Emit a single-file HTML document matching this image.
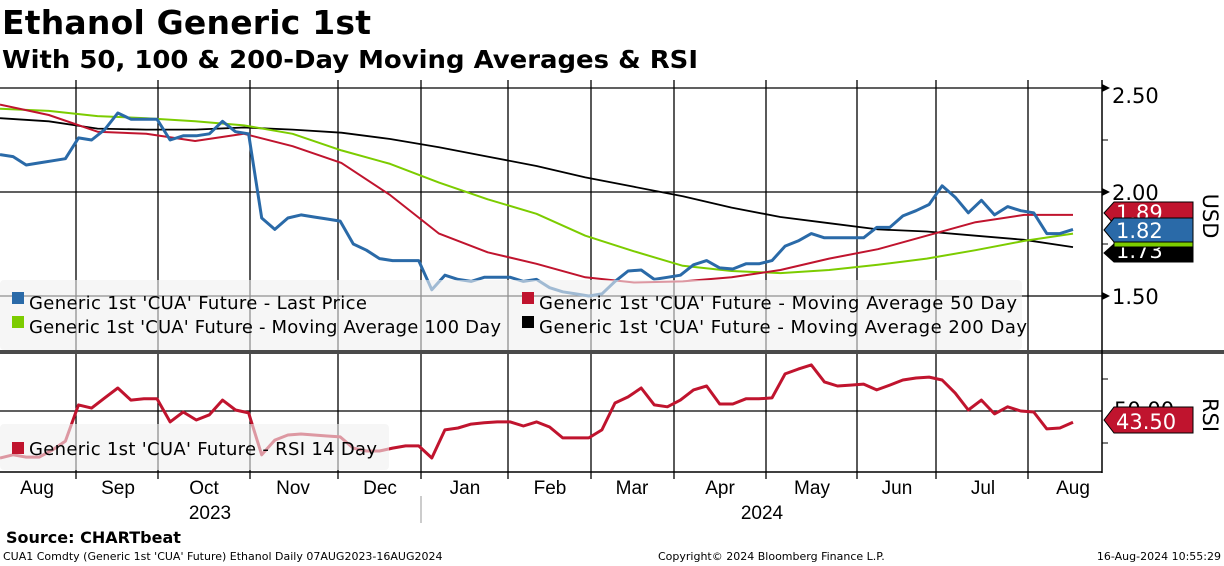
<!DOCTYPE html>
<html><head><meta charset="utf-8"><style>
body{margin:0;background:#fff;}
svg{display:block;font-family:"DejaVu Sans","Liberation Sans",sans-serif;}
</style></head><body>
<svg id="chart" width="1224" height="566" viewBox="0 0 1224 566" xmlns="http://www.w3.org/2000/svg">
<text x="2" y="34" font-size="33" font-weight="bold" textLength="369">Ethanol Generic 1st</text>
<text x="2" y="68" font-size="25" font-weight="bold" textLength="696" lengthAdjust="spacingAndGlyphs">With 50, 100 &amp; 200-Day Moving Averages &amp; RSI</text>
<g id="grid"></g>
<g id="series"></g>
<g id="legends"></g>
<rect x="0" y="350" width="1224" height="4" fill="#4a4a4a"/>
<line x1="1102" y1="80" x2="1102" y2="473" stroke="#000" stroke-width="1.5"/>
<line x1="0" y1="472" x2="1102" y2="472" stroke="#000" stroke-width="1.5"/>
<g id="axes"></g>
<text transform="translate(1203,216) rotate(90)" font-size="21" text-anchor="middle">USD</text>
<text transform="translate(1203,415) rotate(90)" font-size="21" text-anchor="middle">RSI</text>
<text x="210" y="519" font-size="19" text-anchor="middle" font-family="Liberation Sans, sans-serif">2023</text>
<text x="762" y="519" font-size="19" text-anchor="middle" font-family="Liberation Sans, sans-serif">2024</text>
<line x1="421" y1="496" x2="421" y2="523" stroke="#999"/>
<text x="6" y="543" font-size="16" font-weight="bold">Source: CHARTbeat</text>
<text x="3" y="560" font-size="11">CUA1 Comdty (Generic 1st 'CUA' Future) Ethanol  Daily 07AUG2023-16AUG2024</text>
<text x="658" y="560" font-size="11">Copyright© 2024 Bloomberg Finance L.P.</text>
<text x="1221" y="560" font-size="11" text-anchor="end">16-Aug-2024 10:55:29</text>
</svg>
<script>
const months = ["Aug","Sep","Oct","Nov","Dec","Jan","Feb","Mar","Apr","May","Jun","Jul","Aug"];
const priceTicks = [2.50, 2.00, 1.50];
const price = [2.18,2.17,2.13,2.14,2.15,2.16,2.26,2.25,2.30,2.38,2.35,2.35,2.35,2.25,2.27,2.27,2.28,2.34,2.29,2.28,
1.875,1.82,1.875,1.89,1.88,1.87,1.86,1.75,1.72,1.68,
1.67,1.67,1.67,1.53,1.60,1.58,1.57,1.59,1.59,1.59,
1.57,1.58,1.54,1.52,1.51,1.50,1.51,1.57,1.62,1.625,
1.58,1.59,1.60,1.65,1.67,1.635,1.63,1.655,1.655,1.67,
1.74,1.765,1.80,1.78,1.78,1.78,1.78,1.83,1.83,1.885,
1.91,1.94,2.03,1.975,1.90,1.96,1.89,1.93,1.91,1.90,
1.80,1.80,1.82];
const ma50 = [2.42,2.37,2.29,2.28,2.245,2.28,2.22,2.14,1.985,1.80,1.71,1.655,1.59,1.565,1.57,1.59,1.625,1.68,1.725,1.79,1.855,1.89,1.89];
const ma100 = [2.40,2.39,2.365,2.355,2.34,2.32,2.28,2.20,2.135,2.045,1.965,1.895,1.79,1.715,1.645,1.62,1.61,1.625,1.65,1.68,1.72,1.765,1.80];
const ma200 = [2.355,2.34,2.305,2.30,2.30,2.31,2.30,2.285,2.255,2.215,2.17,2.125,2.07,2.025,1.98,1.925,1.88,1.85,1.82,1.81,1.79,1.77,1.735];
const rsi = [35.3,36.3,35.6,35.6,37.8,40.6,51.9,50.9,54.1,57.2,53.4,53.8,53.8,46.6,49.7,47.2,48.8,53.4,50.3,49.4,
36.3,40.9,42.5,42.8,42.5,42.2,41.9,38.4,37.5,37.5,38.4,39.1,39.1,35.3,44.1,44.7,45.9,46.3,46.6,46.6,
45.3,46.6,45.0,41.6,41.6,41.6,44.1,52.5,54.4,57.2,51.9,51.3,53.4,56.6,57.8,52.2,52.2,53.8,53.8,54.1,
61.6,63.1,64.4,59.1,57.8,58.1,58.4,56.6,58.1,59.7,60.3,60.6,59.7,55.6,50.3,53.4,49.1,51.3,50.0,49.7,
44.4,44.7,46.5];
const lastLabels = ["1.89","1.82","1.73"];
const rsiLast = "43.50";

const NS="http://www.w3.org/2000/svg";
const X0=0, X1=1073;
function xIdx(i,n){return X0+(X1-X0)*i/(n-1);}
function yPrice(v){return 192-(v-2)*208;}
function yRsi(r){return 411-(r-50)*3.2;}
const monthGrid=[76,158,250,338,421,508,591,674,766,857,936,1028];
const monthLabelX=[37,118,204,293,380,465,550,632,720,812,897,983,1073];
function mk(tag,attrs,parent){const e=document.createElementNS(NS,tag);for(const k in attrs)e.setAttribute(k,attrs[k]);parent.appendChild(e);return e;}
const grid=document.getElementById('grid'),series=document.getElementById('series'),axes=document.getElementById('axes'),leg=document.getElementById('legends');
monthGrid.forEach(x=>{
  const l=mk('line',{x1:x,y1:80,x2:x,y2:350,stroke:'#000','stroke-width':1.3},grid);
  
  
  mk('line',{x1:x,y1:354,x2:x,y2:479,stroke:'#000','stroke-width':1.3},grid);
});
priceTicks.forEach((v,i)=>{
  const y=yPrice(v);
  const l=mk('line',{x1:0,y1:y,x2:1102,y2:y,stroke:'#000','stroke-width':1.3},grid);
  
  
  mk('path',{d:`M1102 ${y-4} L1110 ${y} L1102 ${y+4}Z`,fill:'#000'},axes);
  const t=mk('text',{x:1112,y:(i===0?y+15:y+8),'font-size':21},axes);
  t.textContent=v.toFixed(2);
  
  
});
[2.25,1.75].forEach(v=>{const y=yPrice(v);mk('line',{x1:1102,y1:y,x2:1108,y2:y,stroke:'#000'},axes);});
mk('line',{x1:0,y1:411,x2:1102,y2:411,stroke:'#000','stroke-width':1.3},grid);
[379,443].forEach(y=>mk('line',{x1:1102,y1:y,x2:1108,y2:y,stroke:'#000'},axes));
months.forEach((m,i)=>{
  const t=mk('text',{x:monthLabelX[i],y:494,'font-size':19,'text-anchor':'middle','font-family':'Liberation Sans, sans-serif'},axes);
  t.textContent=m;
  
  
});
function line(arr,yf,color,w,name){
  const d=arr.map((v,i)=>(i?'L':'M')+xIdx(i,arr.length).toFixed(1)+' '+yf(v).toFixed(1)).join(' ');
  const p=mk('path',{d:d,fill:'none',stroke:color,'stroke-width':w,'stroke-linejoin':'round'},series);
  
  
}
line(ma200,yPrice,'#000',1.8,'ma200-line');
line(ma100,yPrice,'#7ccc00',2,'ma100-line');
line(ma50,yPrice,'#c0142e',2,'ma50-line');
line(price,yPrice,'#2a6aa8',3,'price-line');
line(rsi,yRsi,'#c0142e',3,'rsi-line');
const lb=mk('rect',{x:0,y:280,width:1022,height:70,rx:4,fill:'rgba(240,240,240,0.6)'},leg);


const items=[["#2a6aa8","Generic 1st 'CUA' Future - Last Price",12,303,338],["#c0142e","Generic 1st 'CUA' Future - Moving Average 50 Day",522,303,478],["#7ccc00","Generic 1st 'CUA' Future - Moving Average 100 Day",12,327,472],["#000","Generic 1st 'CUA' Future - Moving Average 200 Day",522,327,488]];
items.forEach(it=>{
  mk('rect',{x:it[2],y:it[3]-11,width:12,height:12,fill:it[0]},leg);
  const t=mk('text',{x:it[2]+17,y:it[3]+6,'font-size':18,textLength:it[4]},leg);
  t.textContent=it[1];
  
  
});
const rb=mk('rect',{x:0,y:424,width:389,height:46,rx:4,fill:'rgba(240,240,240,0.6)'},leg);


mk('rect',{x:12,y:442,width:12,height:12,fill:'#c0142e'},leg);
const rt=mk('text',{x:29,y:455,'font-size':18,textLength:348},leg);
rt.textContent="Generic 1st 'CUA' Future - RSI 14 Day";


function tag(y1,y2,fill,txt,color,name){
  const g=mk('g',{},axes);
  
  
  const m=(y1+y2)/2;
  mk('path',{d:`M1104 ${m} L1114 ${y1} L1193 ${y1} L1193 ${y2} L1114 ${y2}Z`,fill:fill,stroke:'#000','stroke-width':1},g);
  const t=mk('text',{x:1116,y:y2-4,'font-size':21,fill:color},g);
  t.textContent=txt;
}
tag(244,262,'#000',lastLabels[2],'#fff','ma200-value-tag');
mk('rect',{x:1114,y:240,width:79,height:7,fill:'#7ccc00',stroke:'#000'},axes);
tag(202,224,'#c0142e',lastLabels[0],'#fff','ma50-value-tag');
tag(218,242,'#2a6aa8',lastLabels[1],'#fff','price-value-tag');
const rg=mk('text',{x:1114,y:417,'font-size':21,fill:'#000'},axes);rg.textContent="50.00";
tag(407,433,'#c0142e',rsiLast,'#fff','rsi-value-tag');
</script>
</body></html>
